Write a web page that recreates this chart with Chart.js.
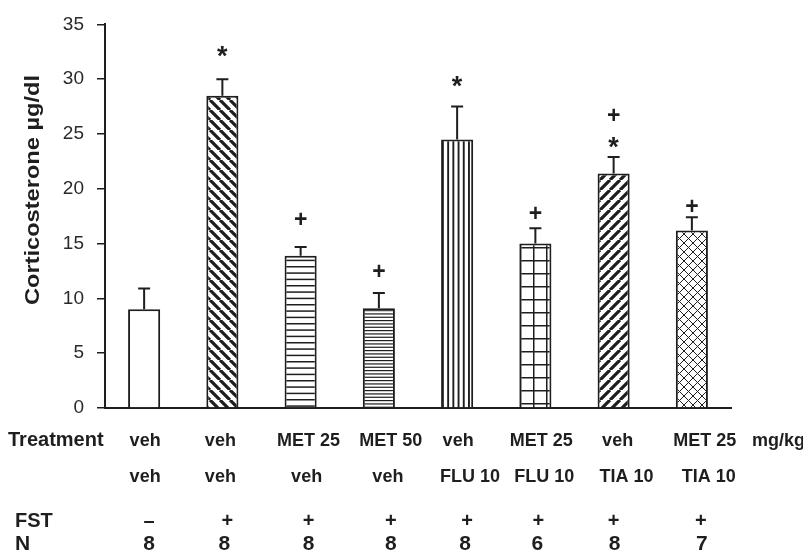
<!DOCTYPE html>
<html>
<head>
<meta charset="utf-8">
<script src="https://cdn.jsdelivr.net/npm/chart.js@4/dist/chart.umd.min.js"></script>
<style>
  html, body { margin: 0; padding: 0; background: #fff; }
  #wrap { width: 803px; height: 552px; }
</style>
</head>
<body>
<div id="wrap"><canvas id="c" width="803" height="552"></canvas></div>
<script>
// Group data: plasma corticosterone (mean + SEM)
const groups = ['g1', 'g2', 'g3', 'g4', 'g5', 'g6', 'g7', 'g8'];
const corticosterone = [9.0, 28.5, 13.9, 9.1, 24.5, 15.0, 21.4, 16.2];
const sem = [1.9, 1.5, 0.8, 1.4, 3.0, 1.4, 1.5, 1.2];
const yTicks = [0, 5, 10, 15, 20, 25, 30, 35];

// Treatment rows shown under each bar
const treatmentA = ['veh', 'veh', 'MET 25', 'MET 50', 'veh', 'MET 25', 'veh', 'MET 25'];
const treatmentB = ['veh', 'veh', 'veh', 'veh', 'FLU 10', 'FLU 10', 'TIA 10', 'TIA 10'];
const fst = ['\u2013', '+', '+', '+', '+', '+', '+', '+'];
const nAnimals = [8, 8, 8, 8, 8, 6, 8, 7];

// Significance symbols above each bar (bottom to top)
const signif = [[], ['*'], ['+'], ['+'], ['*'], ['+'], ['*', '+'], ['+']];

// ---- layout (pixels) ----
const signifGap = [[], [28], [28], [22], [25], [16], [15, 43], [12]];
const rowNudge = [
  [1, -2, 8, 12, 1, 6, 4, 13],
  [1, -2, 6, 9, 13, 9, 13, 17],
  [5, 5, 8, 12, 10, 3, 0, 9],
  [5, 2, 8, 12, 8, 2, 1, 10]
];
const rowBaseline = [446, 481.5, 527, 550];
const INK = '#1e1e1e';
const FONT = '"Liberation Sans", Arial, Helvetica, sans-serif';

// ---- fill patterns ----
function tile(w, h, draw) {
  const c = document.createElement('canvas');
  c.width = w; c.height = h;
  const g = c.getContext('2d');
  g.fillStyle = '#fff';
  g.fillRect(0, 0, w, h);
  g.strokeStyle = INK;
  g.fillStyle = INK;
  draw(g, w, h);
  return g.createPattern(c, 'repeat');
}
function diag(dir, s, lw) {
  return tile(s, s, (g) => {
    g.lineWidth = lw;
    g.beginPath();
    for (let k = -1; k <= 1; k++) {
      if (dir === 'back') { g.moveTo(k * s, 0); g.lineTo(k * s + s, s); }
      else { g.moveTo(k * s, s); g.lineTo(k * s + s, 0); }
    }
    g.stroke();
  });
}
function hLines(h, count, lw) {
  return tile(8, h, (g, w) => {
    for (let i = 0; i < count; i++) g.fillRect(0, i * h / count, w, lw);
  });
}
function vLines(w, count, lw) {
  return tile(w, 8, (g, ww, h) => {
    for (let i = 0; i < count; i++) g.fillRect(i * w / count, 0, lw, h);
  });
}
function grid(s, lw) {
  return tile(s, s, (g) => {
    g.fillRect(0, 0, s, lw);
    g.fillRect(0, 0, lw, s);
  });
}
function cross(s, lw) {
  return tile(s, s, (g) => {
    g.lineWidth = lw;
    g.beginPath();
    for (let k = -1; k <= 1; k++) {
      g.moveTo(k * s, 0); g.lineTo(k * s + s, s);
      g.moveTo(k * s, s); g.lineTo(k * s + s, 0);
    }
    g.stroke();
  });
}

const fills = [
  '#ffffff',
  diag('back', 10, 3.2),
  hLines(19, 3, 1.5),
  hLines(10, 3, 1.2),
  vLines(26, 5, 1.9),
  grid(13, 1.5),
  diag('fwd', 10, 3.2),
  cross(9, 1)
];

// ---- overlay: error bars, significance marks, treatment table, y title ----
const overlay = {
  id: 'overlay',
  beforeDraw(chart) {
    const ctx = chart.ctx;
    ctx.save();
    ctx.fillStyle = '#fff';
    ctx.fillRect(0, 0, chart.width, chart.height);
    ctx.restore();
  },
  afterDatasetsDraw(chart) {
    const ctx = chart.ctx;
    const y = chart.scales.y;
    const meta = chart.getDatasetMeta(0);
    ctx.save();
    ctx.strokeStyle = INK;
    ctx.fillStyle = INK;
    ctx.lineWidth = 2;
    meta.data.forEach((bar, i) => {
      const top = y.getPixelForValue(corticosterone[i]);
      const eTop = y.getPixelForValue(corticosterone[i] + sem[i]);
      ctx.beginPath();
      ctx.moveTo(bar.x, top);
      ctx.lineTo(bar.x, eTop);
      ctx.moveTo(bar.x - 6, eTop);
      ctx.lineTo(bar.x + 6, eTop);
      ctx.stroke();

      signif[i].forEach((sym, k) => {
        const cy = eTop - signifGap[i][k];
        ctx.font = sym === '*' ? 'bold 27px ' + FONT : 'bold 23px ' + FONT;
        ctx.textAlign = 'center';
        ctx.textBaseline = 'alphabetic';
        const m = ctx.measureText(sym);
        const base = cy + (m.actualBoundingBoxAscent - m.actualBoundingBoxDescent) / 2;
        ctx.fillText(sym, bar.x, base);
      });
    });

    // table under the axis
    const rows = [treatmentA, treatmentB, fst, nAnimals];
    const rowFonts = ['bold 18px ', 'bold 18px ', 'bold 20px ', 'bold 21px '];
    ctx.textAlign = 'center';
    ctx.textBaseline = 'alphabetic';
    rows.forEach((row, r) => {
      ctx.font = rowFonts[r] + FONT;
      row.forEach((txt, i) => {
        ctx.fillText(String(txt), meta.data[i].x + rowNudge[r][i], rowBaseline[r]);
      });
    });
    ctx.textAlign = 'left';
    ctx.font = 'bold 20px ' + FONT;
    ctx.fillText('Treatment', 8, rowBaseline[0]);
    ctx.fillText('FST', 15, rowBaseline[2]);
    ctx.font = 'bold 21px ' + FONT;
    ctx.fillText('N', 15, rowBaseline[3]);
    ctx.font = 'bold 18px ' + FONT;
    ctx.fillText('mg/kg', 752, rowBaseline[0]);

    // y axis title
    const title = 'Corticosterone \u00b5g/dl';
    ctx.font = 'bold 20px ' + FONT;
    const tw = ctx.measureText(title).width;
    ctx.translate(39, 190);
    ctx.rotate(-Math.PI / 2);
    ctx.scale(230 / tw, 1);
    ctx.textAlign = 'center';
    ctx.fillText(title, 0, 0);
    ctx.restore();
  }
};

new Chart(document.getElementById('c'), {
  type: 'bar',
  data: {
    labels: groups,
    datasets: [{
      data: corticosterone,
      backgroundColor: fills,
      borderColor: INK,
      borderWidth: 2,
      borderSkipped: 'bottom',
      barPercentage: 0.41,
      categoryPercentage: 1
    }]
  },
  options: {
    responsive: false,
    animation: false,
    devicePixelRatio: 1,
    layout: { padding: { left: 0, right: 72, top: 22, bottom: 144 } },
    plugins: { legend: { display: false }, tooltip: { enabled: false } },
    scales: {
      x: {
        grid: { display: false },
        ticks: { display: false },
        border: { display: true, color: INK, width: 2 },
        afterFit(s) { s.height = 0; }
      },
      y: {
        min: 0,
        max: 35,
        afterFit(s) { s.width = 105; },
        afterBuildTicks(s) { s.ticks = yTicks.map(v => ({ value: v })); },
        grid: { display: true, drawOnChartArea: false, drawTicks: true, tickLength: 8, color: INK, lineWidth: 1.5 },
        border: { display: true, color: INK, width: 2 },
        ticks: { color: '#2a2a2a', padding: 13, font: { family: FONT, size: 19 } }
      }
    }
  },
  plugins: [overlay]
});
</script>
</body>
</html>
